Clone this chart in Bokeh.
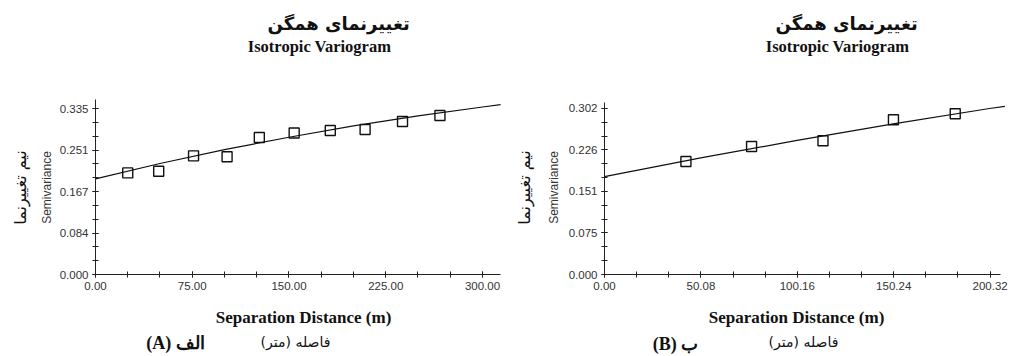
import math
from bokeh.plotting import figure
from bokeh.models import Range1d, FixedTicker, CustomJSTickFormatter, Label, LinearAxis
from bokeh.layouts import row
from bokeh.embed import file_html
from bokeh.resources import INLINE

# ---------------- data ----------------
# Panel A
lag_a = [25, 49, 76, 102, 127, 154, 182, 209, 238, 267]
gamma_a = [0.205, 0.2085, 0.2395, 0.2375, 0.2765, 0.2855, 0.2906, 0.2926, 0.3088, 0.321]
model_a_x = [0, 50, 100, 150, 200, 250, 300, 314]
model_a_y = [0.193, 0.224, 0.252, 0.277, 0.300, 0.320, 0.338, 0.343]
xticks_a = [0, 75, 150, 225, 300]
xlabels_a = ["0.00", "75.00", "150.00", "225.00", "300.00"]
yticks_a = [0.0, 0.08375, 0.1675, 0.25125, 0.335]
ylabels_a = ["0.000", "0.084", "0.167", "0.251", "0.335"]

# Panel B
lag_b = [42.3, 76.4, 113.5, 150.1, 182.2]
gamma_b = [0.2056, 0.2329, 0.2432, 0.2814, 0.2923]
model_b_x = [0, 50, 100, 150, 200, 208]
model_b_y = [0.178, 0.212, 0.244, 0.274, 0.302, 0.306]
xticks_b = [0, 50.08, 100.16, 150.24, 200.32]
xlabels_b = ["0.00", "50.08", "100.16", "150.24", "200.32"]
yticks_b = [0.0, 0.0755, 0.151, 0.2265, 0.302]
ylabels_b = ["0.000", "0.075", "0.151", "0.226", "0.302"]

title_fa = "تغییرنمای همگن"
title_en = "Isotropic Variogram"
ylabel_en = "Semivariance"
ylabel_fa = "نیم تغییرنما"
xlabel_en = "Separation Distance (m)"
xlabel_fa = "فاصله (متر)\u200F"
panel_a = "(A) الف"
panel_b = "(B) ب"

FA_FONT = "DejaVu Sans"
SERIF = "Liberation Serif"
SANS = "Liberation Sans"


def minor_list(ticks):
    out = []
    for a, b in zip(ticks[:-1], ticks[1:]):
        step = (b - a) / 3.0
        out += [a, a + step, a + 2 * step]
    out.append(ticks[-1])
    return out


def make_panel(lag, gamma, mx, my, xt, xl, yt, yl, xr, yr, xb, yb, width, height,
               pos, panel_text):
    p = figure(width=width, height=height, output_backend="svg", toolbar_location=None,
               x_range=Range1d(*xr), y_range=Range1d(*yr),
               x_axis_location=None, y_axis_location=None,
               min_border=0, min_border_left=0, min_border_right=0,
               min_border_top=0, min_border_bottom=0)
    p.outline_line_color = None
    p.grid.visible = False
    p.background_fill_color = "white"
    p.border_fill_color = "white"

    p.line(mx, my, line_color="#111111", line_width=1.2)
    p.scatter(lag, gamma, marker="square", size=10, fill_color=None,
              line_color="#111111", line_width=1.4)

    xaxis = LinearAxis(fixed_location=0, bounds=xb,
                       ticker=FixedTicker(ticks=xt, minor_ticks=minor_list(xt)),
                       formatter=CustomJSTickFormatter(args=dict(labels=xl),
                                                       code="return labels[index];"))
    yaxis = LinearAxis(fixed_location=0, bounds=yb,
                       ticker=FixedTicker(ticks=yt, minor_ticks=minor_list(yt)),
                       formatter=CustomJSTickFormatter(args=dict(labels=yl),
                                                       code="return labels[index];"))
    for ax in (xaxis, yaxis):
        ax.axis_line_color = "#222222"
        ax.axis_line_width = 1
        ax.major_tick_in = 3
        ax.major_tick_out = 3
        ax.minor_tick_in = 3
        ax.minor_tick_out = 3
        ax.major_tick_line_color = "#222222"
        ax.minor_tick_line_color = "#222222"
        ax.major_label_text_font = SANS
        ax.major_label_text_font_size = "11.5px"
        ax.major_label_text_color = "#333333"
        ax.major_label_standoff = 4
    p.add_layout(xaxis, "below")
    p.add_layout(yaxis, "left")

    def lab(key, text, font, size, style="normal", angle=0.0, color="#111111", align="center"):
        x, y = pos[key]
        p.add_layout(Label(x=x, y=y, x_units="screen", y_units="screen", text=text,
                           text_font=font, text_font_size=size, text_font_style=style,
                           text_align=align, text_baseline="middle",
                           angle=angle, text_color=color))

    lab("tfa", title_fa, FA_FONT, "18px", "bold", align="left")
    lab("ten", title_en, SERIF, "16.5px", "bold")
    lab("yen", ylabel_en, SANS, "12px", angle=math.pi / 2, color="#333333")
    lab("yfa", ylabel_fa, FA_FONT, "16px", angle=math.pi / 2)
    lab("xen", xlabel_en, SERIF, "17px", "bold")
    lab("xfa", xlabel_fa, FA_FONT, "14px")
    lab("pan", panel_text, SERIF, "18px", "bold")
    return p


pos_a = dict(tfa=(267, 333), ten=(319, 310), yen=(46, 169), yfa=(20, 169),
             xen=(303, 39), xfa=(295, 15), pan=(175, 14))
pos_b = dict(tfa=(270, 333), ten=(332, 310), yen=(48, 169), yfa=(19, 169),
             xen=(291, 39), xfa=(298, 15), pan=(170, 13))

p1 = make_panel(lag_a, gamma_a, model_a_x, model_a_y, xticks_a, xlabels_a,
                yticks_a, ylabels_a, (-73.64, 317.83), (-0.16549, 0.55298),
                (0, 314.2), (0, 0.353), 505, 356, pos_a, panel_a)
p2 = make_panel(lag_b, gamma_b, model_b_x, model_b_y, xticks_b, xlabels_b,
                yticks_b, ylabels_b, (-51.43, 210.91), (-0.14917, 0.49845),
                (0, 205.9), (0, 0.313), 505, 356, pos_b, panel_b)

layout = row(p1, p2)
open("out.html", "w").write(file_html(layout, INLINE))
